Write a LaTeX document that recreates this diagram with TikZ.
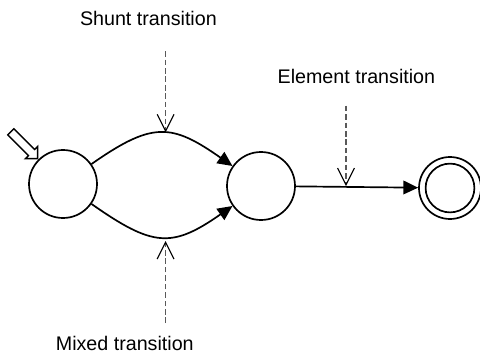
\documentclass[tikz,border=0pt]{standalone}
\usepackage{fontspec}
\setmainfont{Liberation Sans}
\usetikzlibrary{arrows.meta,shapes.arrows}
\tikzset{
	state/.style={draw, circle, line width=1.2pt, minimum size=1.7cm, inner sep=0},
	finalout/.style={draw, circle, line width=1.2pt, minimum size=1.55cm, inner sep=0},
	finalin/.style={draw, circle, line width=1.2pt, minimum size=1.22cm, inner sep=0},
	initarrow/.style={draw, single arrow, fill=white, line width=1pt, minimum height=0.95cm, single arrow head extend=0.11cm, inner sep=0.09cm, rotate=-45},
	flow/.style={line width=1.2pt, -{Triangle[length=0.37cm, width=0.34cm]}},
	trans/.style={draw=black!65, line width=1pt, dash pattern=on 4pt off 2pt, -{Straight Barb[length=0.42cm, width=0.42cm, color=black, line width=0.8pt]}},
	tlabel/.style={font=\fontsize{14}{17}\selectfont, anchor=base, inner sep=0}
}

\begin{document}
\begin{tikzpicture}
			%%%%% START %%%%%
			\useasboundingbox (0, 0) rectangle (12, 8.85);
			
			\node[state] (l) at (1.575, 4.25) {};
			\node[state] (m) at (6.525, 4.2) {};
			\node[finalout] (f) at (11.25, 4.15) {};
			\node[finalin] (fi) at (11.25, 4.15) {};
			
			\node[initarrow, anchor=tip] (init) at (l.135) {};
			
			\draw[flow] (l.35) to[out=35, in=145, looseness=1.35] coordinate[pos=0.53] (sTop) (m.145);
			\draw[flow] (l.-35) to[out=-35, in=-145, looseness=1.35] coordinate[pos=0.53] (mBot) (m.-145);
			\draw[flow] (m) -- coordinate[pos=0.41] (eMid) (f);
			
			\draw[trans] ([yshift=2.05cm]sTop) -- ([yshift=0.02cm]sTop);
			\draw[trans] ([yshift=-2.15cm]mBot) -- ([yshift=-0.1cm]mBot);
			\draw[trans] ([yshift=2.03cm]eMid) -- ([yshift=0.02cm]eMid);
			
			\node[tlabel] (shunt) at (3.71, 8.21) {Shunt transition};
			\node[tlabel] (element) at (8.91, 6.76) {Element transition};
			\node[tlabel] (mixed) at (3.12, 0.1) {Mixed transition};
			
			%%%%% END %%%%%
		\end{tikzpicture}
\end{document}
